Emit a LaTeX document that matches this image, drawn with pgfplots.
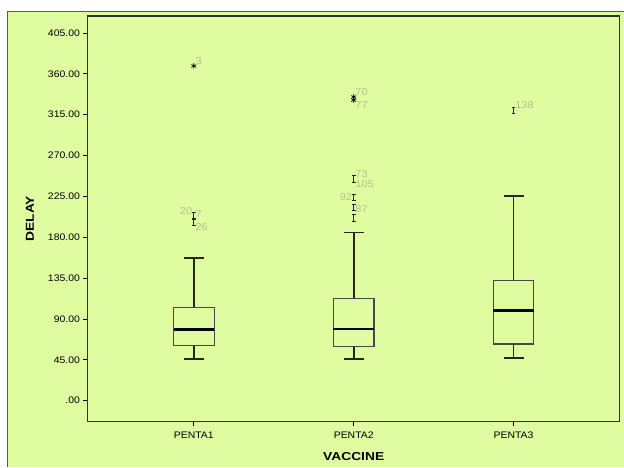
\documentclass[border=0pt]{standalone}
\usepackage{pgfplots}
\pgfplotsset{compat=1.18}
\usepackage{fontspec}
\setmainfont{Liberation Sans}
\newfontfamily\tickfont[FakeStretch=1.1]{Liberation Sans}
\newfontfamily\labfont[FakeStretch=1.2]{Liberation Sans}
\definecolor{bg}{RGB}{223,252,160}
\definecolor{lab}{RGB}{178,194,140}
\pgfdeclareplotmark{ibeam}{%
 \pgfpathmoveto{\pgfqpoint{0pt}{-3.3pt}}\pgfpathlineto{\pgfqpoint{0pt}{3.3pt}}%
 \pgfpathmoveto{\pgfqpoint{-1.8pt}{-3.3pt}}\pgfpathlineto{\pgfqpoint{1.8pt}{-3.3pt}}%
 \pgfpathmoveto{\pgfqpoint{-1.8pt}{3.3pt}}\pgfpathlineto{\pgfqpoint{1.8pt}{3.3pt}}%
 \pgfusepathqstroke}
\pgfplotsset{outlab/.style={draw=none, mark=none, nodes near coords,
  point meta=explicit symbolic,
  every node near coord/.append style={anchor=#1, inner sep=1.5pt,
    font=\tickfont\fontsize{10}{11}\selectfont, text=lab}},
  whisk/.style={black!85, line width=1.7pt, mark=none},
  boxl/.style={black!72, line width=1.2pt, mark=none},
  medl/.style={black, line width=2.6pt, mark=none}}
\begin{document}
\begin{tikzpicture}
\fill[white] (0pt,0pt) rectangle (624pt,467pt);
\fill[bg] (8pt,0pt) rectangle (624pt,455pt);
\draw[black!65, line width=1pt] (8pt,0pt) -- (8pt,455pt) -- (624pt,455pt);
\begin{axis}[at={(88pt,45pt)}, anchor=south west, scale only axis,
 width=532pt, height=406pt,
 xmin=0.3375, xmax=3.6625, ymin=-23.1, ymax=423.7,
 xtick={1,2,3}, xticklabels={PENTA1,PENTA2,PENTA3},
 ytick={0,45,90,135,180,225,270,315,360,405},
 yticklabels={.00,45.00,90.00,135.00,180.00,225.00,270.00,315.00,360.00,405.00},
 tick align=outside, xtick pos=bottom, ytick pos=left, major tick length=4.5pt,
 tick style={black, line width=0.8pt},
 ticklabel style={font=\tickfont\fontsize{9.5}{10}\selectfont},
 xticklabel style={yshift=-2pt},
 xlabel={VACCINE}, ylabel={DELAY},
 label style={font=\labfont\fontsize{11.5}{12}\selectfont\bfseries},
 xlabel style={at={(axis description cs:0.5,-0.0862)}, anchor=center},
 ylabel style={at={(axis description cs:-0.109,0.5)}, anchor=center},
 axis line style={black!80, line width=1.1pt},
 clip=false,
]
% PENTA1
\addplot[whisk] coordinates {(1,45.9) (1,60.5)};
\addplot[whisk] coordinates {(1,102.4) (1,157.4)};
\addplot[whisk] coordinates {(0.9375,45.9) (1.0625,45.9)};
\addplot[whisk] coordinates {(0.9375,157.4) (1.0625,157.4)};
\addplot[boxl] coordinates {(0.873,60.5) (1.127,60.5) (1.127,102.4) (0.873,102.4) (0.873,60.5)};
\addplot[medl] coordinates {(0.873,78.1) (1.127,78.1)};
% PENTA2
\addplot[whisk] coordinates {(2,45.9) (2,59.8)};
\addplot[whisk] coordinates {(2,112.3) (2,185.2)};
\addplot[whisk] coordinates {(1.9375,45.9) (2.0625,45.9)};
\addplot[whisk] coordinates {(1.9375,185.2) (2.0625,185.2)};
\addplot[boxl] coordinates {(1.873,59.8) (2.127,59.8) (2.127,112.3) (1.873,112.3) (1.873,59.8)};
\addplot[medl] coordinates {(1.873,78.9) (2.127,78.9)};
% PENTA3
\addplot[whisk] coordinates {(3,47) (3,62.4)};
\addplot[whisk] coordinates {(3,132.8) (3,225.6)};
\addplot[whisk] coordinates {(2.9375,47) (3.0625,47)};
\addplot[whisk] coordinates {(2.9375,225.6) (3.0625,225.6)};
\addplot[boxl] coordinates {(2.873,62.4) (3.127,62.4) (3.127,132.8) (2.873,132.8) (2.873,62.4)};
\addplot[medl] coordinates {(2.873,99.1) (3.127,99.1)};
% outliers
\addplot[only marks, mark=asterisk, mark size=2.8pt, black, line width=0.7pt]
  coordinates {(1,368.7) (2,334.5) (2,331)};
\addplot[only marks, mark=ibeam, black!85, line width=0.9pt]
  coordinates {(1,203.6) (1,197) (2,244) (2,224) (2,213) (2,201) (3,319.5)};
\addplot[outlab=south west] coordinates {(1,368.7)[3] (2,334.5)[70] (2,244)[73] (3,319.5)[138]};
\addplot[outlab=north west] coordinates {(1,197)[26] (2,331)[77] (2,244)[105]};
\addplot[outlab=south east] coordinates {(1,203.6)[20]};
\addplot[outlab=west] coordinates {(1,205)[7] (2,211)[87]};
\addplot[outlab=east] coordinates {(2,224)[92]};
\end{axis}
\end{tikzpicture}
\end{document}
